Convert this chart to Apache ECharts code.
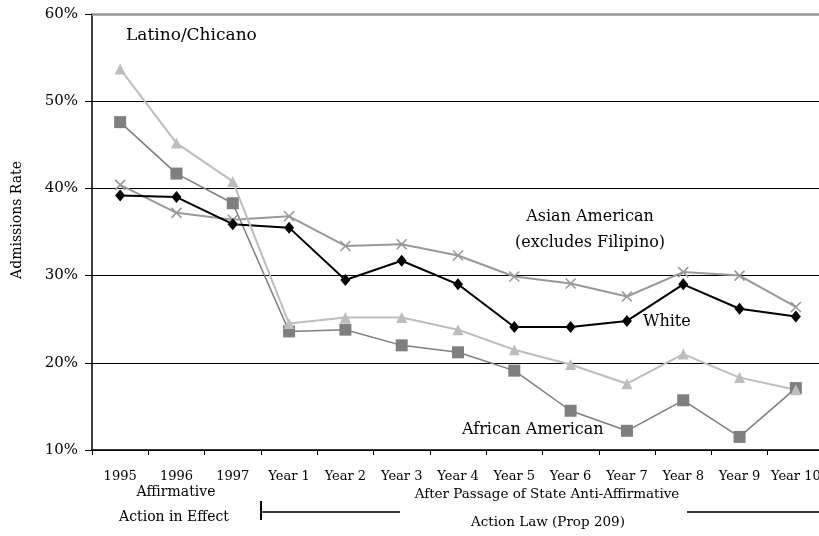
<!DOCTYPE html>
<html>
<head>
<meta charset="utf-8">
<script src="https://cdn.jsdelivr.net/npm/echarts@6/dist/echarts.min.js"></script>
<style>
html,body{margin:0;padding:0;background:#fff;}
#chart{width:819px;height:536px;}
</style>
</head>
<body>
<div id="chart"></div>
<script>
const categories = ['1995','1996','1997','Year 1','Year 2','Year 3','Year 4','Year 5','Year 6','Year 7','Year 8','Year 9','Year 10'];
const latino   = [53.7, 45.2, 40.8, 24.5, 25.2, 25.2, 23.8, 21.5, 19.8, 17.6, 21.0, 18.3, 16.9];
const african  = [47.6, 41.7, 38.3, 23.6, 23.8, 22.0, 21.2, 19.1, 14.5, 12.2, 15.7, 11.5, 17.1];
const asian    = [40.4, 37.2, 36.4, 36.8, 33.4, 33.6, 32.3, 29.9, 29.1, 27.6, 30.4, 30.0, 26.4];
const white    = [39.2, 39.0, 35.9, 35.5, 29.5, 31.7, 29.0, 24.1, 24.1, 24.8, 29.0, 26.2, 25.3];
const yTicks   = [10, 20, 30, 40, 50, 60];

const serif = '"DejaVu Serif", "Liberation Serif", serif';
const chart = echarts.init(document.getElementById('chart'));

const xPath = 'path://M0,0L10,10M10,0L0,10';

chart.setOption({
  animation: false,
  backgroundColor: '#fff',
  textStyle: { fontFamily: serif },
  grid: { left: 92, top: 14, bottom: 86, right: -5, containLabel: false, outerBoundsMode: 'none' },
  xAxis: {
    type: 'category',
    data: categories,
    boundaryGap: true,
    axisLine: { lineStyle: { color: '#000', width: 1.5 } },
    axisTick: { show: true, length: 5, lineStyle: { color: '#000' } },
    axisLabel: { color: '#000', fontFamily: serif, fontSize: 13, margin: 20, interval: 0 },
    splitLine: { show: false }
  },
  yAxis: {
    type: 'value',
    min: yTicks[0],
    max: yTicks[yTicks.length - 1],
    interval: 10,
    name: 'Admissions Rate',
    nameLocation: 'middle',
    nameGap: 68,
    nameTextStyle: { color: '#000', fontFamily: serif, fontSize: 14, padding: [0, 0, 0, 24] },
    axisLine: { show: true, lineStyle: { color: '#000', width: 1.5 } },
    axisTick: { show: true, length: 7, lineStyle: { color: '#000' } },
    axisLabel: { color: '#000', fontFamily: serif, fontSize: 15, margin: 14, formatter: v => v + '%' },
    splitLine: { show: true, lineStyle: { color: ['#000','#000','#000','#000','#000','#999'], width: 1 } }
  },
  series: [
    {
      name: 'African American', type: 'line', data: african,
      symbol: 'rect', symbolSize: 12,
      lineStyle: { color: '#7f7f7f', width: 1.5 },
      itemStyle: { color: '#7f7f7f' },
      markLine: {
        silent: true, symbol: 'none', label: { show: false },
        lineStyle: { color: '#999', width: 2.5, type: 'solid' },
        data: [{ yAxis: 60 }]
      }
    },
    {
      name: 'Asian American', type: 'line', data: asian,
      symbol: xPath, symbolSize: 10,
      lineStyle: { color: '#999', width: 2 },
      itemStyle: { color: 'rgba(0,0,0,0)', borderColor: '#999', borderWidth: 1.6 }
    },
    {
      name: 'White', type: 'line', data: white,
      symbol: 'diamond', symbolSize: [10, 12],
      lineStyle: { color: '#000', width: 2 },
      itemStyle: { color: '#000' }
    },
    {
      name: 'Latino/Chicano', type: 'line', data: latino,
      symbol: 'triangle', symbolSize: 11,
      lineStyle: { color: '#bdbdbd', width: 2 },
      itemStyle: { color: '#bdbdbd' }
    }
  ],
  graphic: [
    { type: 'text', x: 126, y: 36, style: { text: 'Latino/Chicano', font: '17px ' + serif, fill: '#000', verticalAlign: 'middle' } },
    { type: 'text', x: 590, y: 217, style: { text: 'Asian American', font: '16px ' + serif, fill: '#000', align: 'center', verticalAlign: 'middle' } },
    { type: 'text', x: 590, y: 243, style: { text: '(excludes Filipino)', font: '16px ' + serif, fill: '#000', align: 'center', verticalAlign: 'middle' } },
    { type: 'text', x: 643, y: 322, style: { text: 'White', font: '16px ' + serif, fill: '#000', verticalAlign: 'middle' } },
    { type: 'text', x: 462, y: 430, style: { text: 'African American', font: '16px ' + serif, fill: '#000', verticalAlign: 'middle' } },
    { type: 'text', x: 176, y: 492, style: { text: 'Affirmative', font: '14px ' + serif, fill: '#000', align: 'center', verticalAlign: 'middle' } },
    { type: 'text', x: 174, y: 517, style: { text: 'Action in Effect', font: '14px ' + serif, fill: '#000', align: 'center', verticalAlign: 'middle' } },
    { type: 'text', x: 547, y: 494, style: { text: 'After Passage of State Anti-Affirmative', font: '13.5px ' + serif, fill: '#000', align: 'center', verticalAlign: 'middle' } },
    { type: 'text', x: 548, y: 522, style: { text: 'Action Law (Prop 209)', font: '13.5px ' + serif, fill: '#000', align: 'center', verticalAlign: 'middle' } },
    { type: 'line', shape: { x1: 261, y1: 501, x2: 261, y2: 520 }, style: { stroke: '#000', lineWidth: 2 } },
    { type: 'line', shape: { x1: 261, y1: 512, x2: 400, y2: 512 }, style: { stroke: '#000', lineWidth: 1.5 } },
    { type: 'line', shape: { x1: 687, y1: 512, x2: 819, y2: 512 }, style: { stroke: '#000', lineWidth: 1.5 } }
  ]
});
</script>
</body>
</html>
